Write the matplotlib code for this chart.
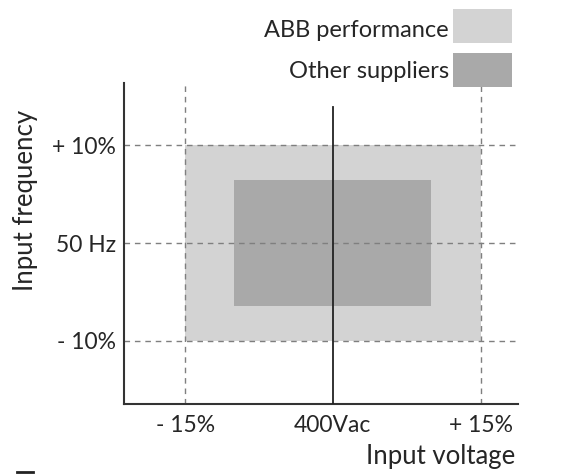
import matplotlib.pyplot as plt
from matplotlib.patches import Rectangle

plt.rcParams['font.family'] = ['Lato', 'DejaVu Sans']

# envelopes (% deviation from nominal): voltage x, frequency y
series_names = ['ABB performance', 'Other suppliers']
volt_range = [(-15, 15), (-10, 10)]
freq_range = [(-10, 10), (-6.5, 6.5)]
colors = ['#d3d3d3', '#a9a9a9']

xticks = [-15, 0, 15]
xtick_labels = ['- 15%', '400Vac', '+ 15%']
yticks = [-10, 0, 10]
ytick_labels = ['- 10%', '50 Hz', '+ 10%']

fig = plt.figure(figsize=(5.68, 4.74), dpi=100)
ax = fig.add_axes([124/568, 70/474, 394/568, 321/474])

for (x0, x1), (y0, y1), c in zip(volt_range, freq_range, colors):
    ax.add_patch(Rectangle((x0, y0), x1 - x0, y1 - y0, facecolor=c,
                           edgecolor='none', zorder=1))

ax.set_xlim(-21.2, 18.8)
ax.set_ylim(-16.5, 16.4)

for x in [xticks[0], xticks[-1]]:
    ax.axvline(x, color='#7f7f7f', lw=1, ls=(0, (4, 3.5)), zorder=2)
for y in yticks:
    ax.axhline(y, color='#7f7f7f', lw=1, ls=(0, (4, 3.5)), zorder=2)
ax.plot([0, 0], [-16.5, 13.9], color='#222222', lw=1.3, zorder=3)

for s in ['top', 'right']:
    ax.spines[s].set_visible(False)
for s in ['left', 'bottom']:
    ax.spines[s].set_color('#333333')
    ax.spines[s].set_linewidth(1.5)

ax.set_xticks(xticks, xtick_labels)
ax.set_yticks(yticks, ytick_labels)
ax.tick_params(length=0, labelsize=16.5, colors='#262626')
ax.tick_params(axis='x', pad=8)
ax.tick_params(axis='y', pad=6)

ax.set_xlabel('Input voltage', fontsize=18.5, color='#262626', loc='right')
ax.set_ylabel('Input frequency', fontsize=18.5, color='#262626', loc='top')
ax.xaxis.set_label_coords(0.992, -0.125)
ax.yaxis.set_label_coords(-0.218, 0.916)

# legend: text right-aligned, swatch on the right
for i, (name, c) in enumerate(zip(series_names, colors)):
    top = 9 + i * 44
    fig.patches.append(Rectangle((453/568, 1 - (top + 34)/474), 59/568, 34/474,
                                 transform=fig.transFigure, facecolor=c,
                                 edgecolor='none'))
    fig.text(449/568, 1 - (37 + i * 41)/474, name, ha='right', va='baseline',
             fontsize=17, color='#262626')

# small brand mark bottom-left
fig.add_artist(plt.Line2D([17/568, 33/568], [2/474, 2/474],
                          transform=fig.transFigure, color='#222222', lw=2))

fig.savefig('out.png', dpi=100)
